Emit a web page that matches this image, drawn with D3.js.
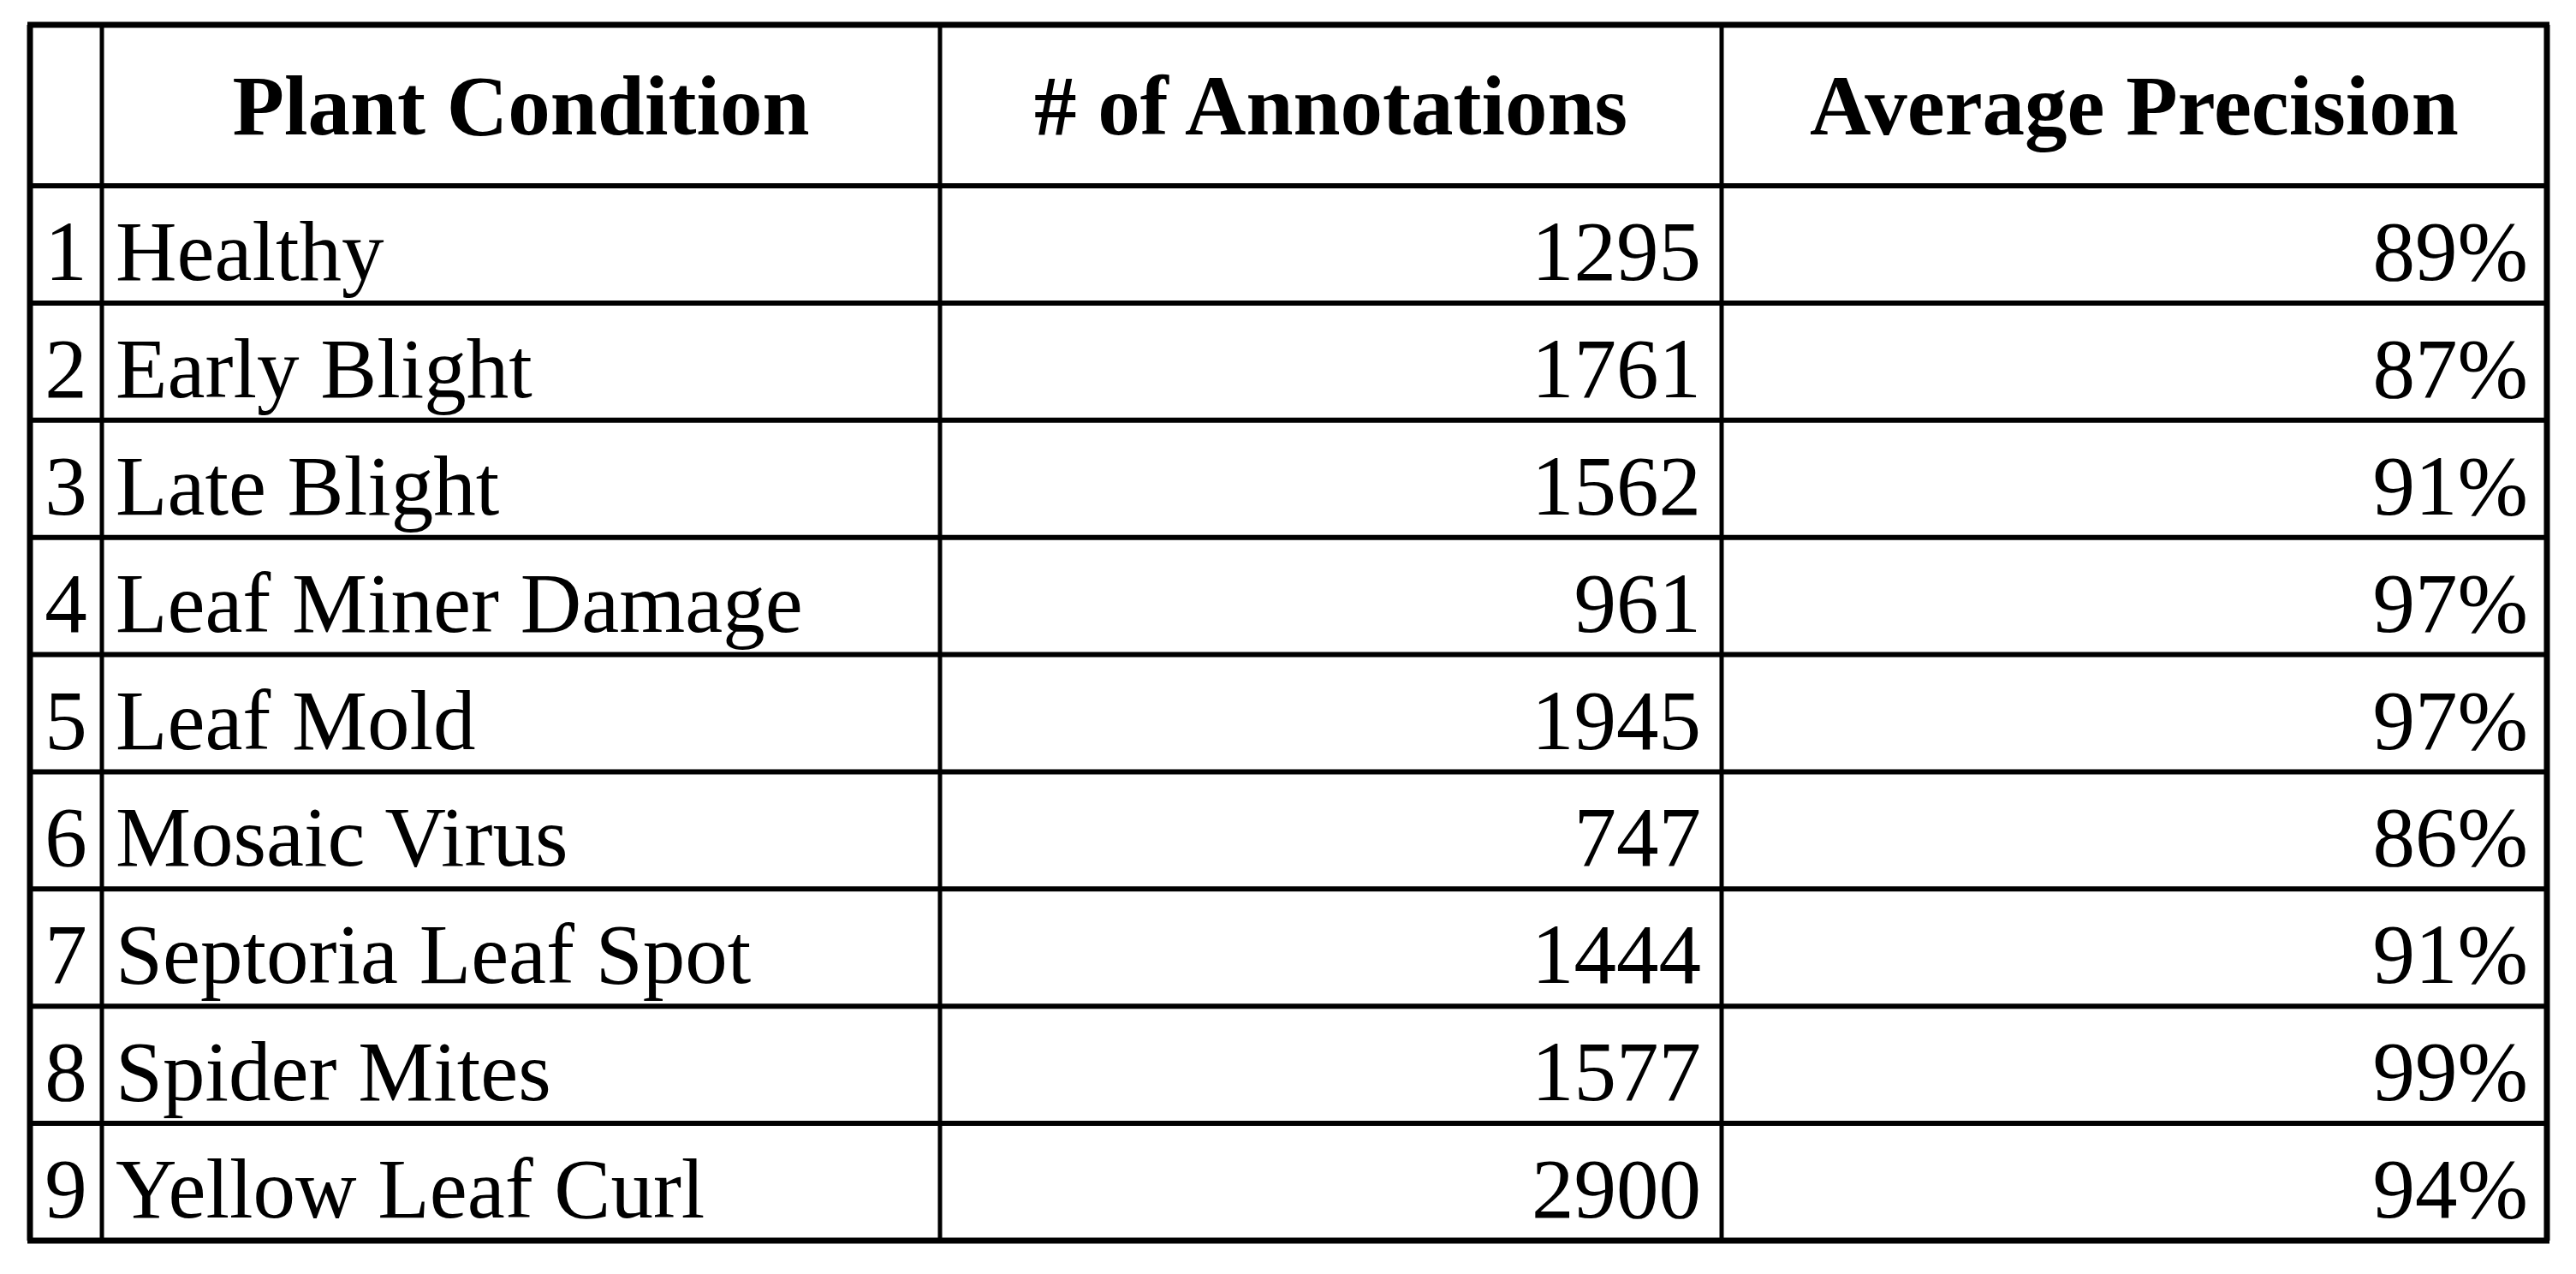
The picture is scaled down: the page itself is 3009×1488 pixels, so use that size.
<!DOCTYPE html>
<html><head><meta charset="utf-8">
<script src="https://cdn.jsdelivr.net/npm/d3@7"></script>
<style>body{margin:0;background:#fff}text{font-family:"Liberation Serif","Times New Roman",serif;fill:#000}</style>
</head><body><div id="table"></div>
<script>
var headers = ["", "Plant Condition", "# of Annotations", "Average Precision"];
var conditions = ["Healthy","Early Blight","Late Blight","Leaf Miner Damage","Leaf Mold","Mosaic Virus","Septoria Leaf Spot","Spider Mites","Yellow Leaf Curl"];
var annotations = [1295,1761,1562,961,1945,747,1444,1577,2900];
var precision = [89,87,91,97,97,86,91,99,94];

var width = 3009, height = 1488;
var tLeft = 35, tRight = 2975, tTop = 29, headBottom = 217, tBottom = 1449;
var colX = [tLeft, 119, 1098, 2011, tRight];
var fs = 99;

var svg = d3.select("#table").append("svg").attr("width", width).attr("height", height);

var y = d3.scaleBand().domain(d3.range(conditions.length)).range([headBottom, tBottom]);

// header
svg.selectAll(".head").data(headers).enter().append("text")
  .attr("x", function(d, i) { return (colX[i] + colX[i+1]) / 2; })
  .attr("y", (tTop + headBottom) / 2 + fs * 0.34)
  .attr("text-anchor", "middle").attr("font-weight", "bold").attr("font-size", fs)
  .text(function(d) { return d; });

var rows = svg.selectAll(".row").data(conditions).enter().append("g")
  .attr("transform", function(d, i) { return "translate(0," + (y(i) + y.bandwidth() / 2 + fs * 0.42) + ")"; });

rows.append("text").attr("x", (colX[0] + colX[1]) / 2).attr("text-anchor", "middle")
  .attr("font-size", fs).text(function(d, i) { return i + 1; });
rows.append("text").attr("x", colX[1] + 16).attr("font-size", fs).text(function(d) { return d; });
rows.append("text").attr("x", colX[3] - 24).attr("text-anchor", "end").attr("font-size", fs)
  .text(function(d, i) { return annotations[i]; });
rows.append("text").attr("x", colX[4] - 22).attr("text-anchor", "end").attr("font-size", fs)
  .text(function(d, i) { return precision[i] + "%"; });

// grid lines
var hLines = [tTop, headBottom].concat(d3.range(1, conditions.length + 1).map(function(i) { return y(i - 1) + y.bandwidth(); }));
svg.selectAll(".hl").data(hLines).enter().append("line")
  .attr("x1", tLeft - 3).attr("x2", tRight + 3).attr("y1", function(d) { return d; }).attr("y2", function(d) { return d; })
  .attr("stroke", "#000").attr("stroke-width", function(d, i) { return i === 0 || i === hLines.length - 1 ? 7 : 6; });
svg.selectAll(".vl").data(colX).enter().append("line")
  .attr("x1", function(d) { return d; }).attr("x2", function(d) { return d; }).attr("y1", tTop).attr("y2", tBottom)
  .attr("stroke", "#000").attr("stroke-width", function(d, i) { return i === 0 || i === colX.length - 1 ? 7 : 5; });
</script></body></html>
